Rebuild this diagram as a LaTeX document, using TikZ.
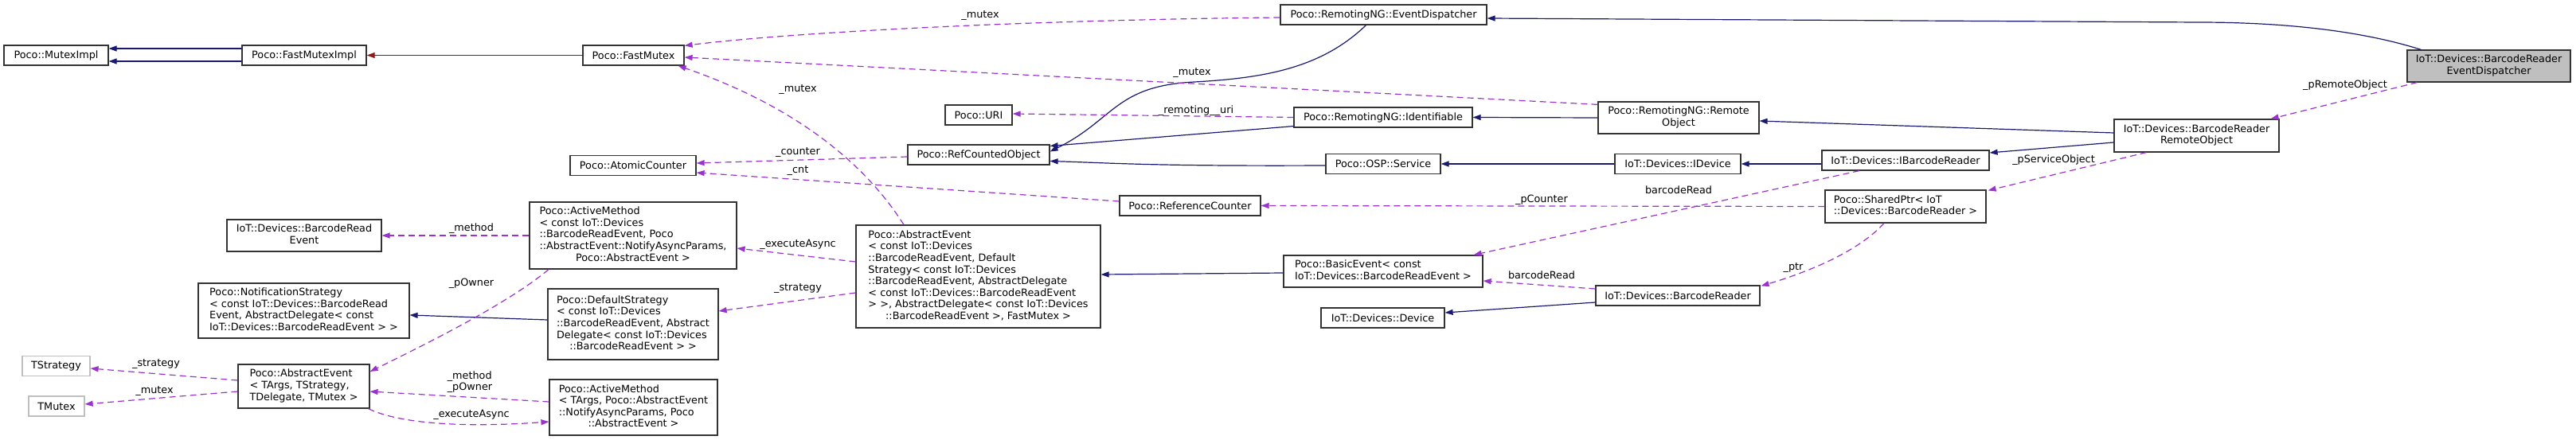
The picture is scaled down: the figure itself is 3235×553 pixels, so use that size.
\documentclass[tikz,border=0pt]{standalone}
\usepackage{fontspec}
\setmainfont{DejaVu Sans}
\usepackage{tikz}
\usetikzlibrary{arrows.meta,calc}
\definecolor{inhblue}{HTML}{191970}
\definecolor{usepurple}{HTML}{9A32CD}
\definecolor{protred}{HTML}{8B1A1A}
\definecolor{boxgray}{HTML}{BFBFBF}
\newcommand{\dfont}{\fontsize{12.8}{14.6}\selectfont}
% lines left, last line centred
\newcommand{\ml}[2]{\begin{tabular}{@{}l@{}}#1\\\multicolumn{1}{@{}c@{}}{#2}\end{tabular}}

\begin{document}
\begin{tikzpicture}[x=1pt,y=-1pt,
  cls/.style={draw=black!80,line width=1.2pt,fill=white,inner sep=0pt,font=\dfont},
  ext/.style={cls,draw=boxgray},
  focus/.style={cls,fill=boxgray},
  sz/.style 2 args={minimum width=#1pt,minimum height=#2pt},
  inh/.style={inhblue,line width=1.2pt,-{Triangle[length=10pt,width=7pt]}},
  prot/.style={inh,protred},
  use/.style={usepurple,line width=1.2pt,dash pattern=on 8pt off 5pt,-{Triangle[length=10pt,width=7pt]}},
  lbl/.style={font=\dfont,inner sep=0pt}]
  \useasboundingbox (0,0) rectangle (3235,553);

  % classes
  \node[cls,sz={131}{25}] (mutexImpl) at (70.5,69.5) {Poco::MutexImpl};
  \node[cls,sz={156}{25}] (fastMutexImpl) at (382,69.5) {Poco::FastMutexImpl};
  \node[cls,sz={127}{25}] (fastMutex) at (795.5,69.5) {Poco::FastMutex};
  \node[cls,sz={259}{25}] (eventDispatcher) at (1737.5,18.5) {Poco::RemotingNG::EventDispatcher};
  \node[focus,sz={205}{40}] (bred) at (3125.5,83) {\ml{IoT::Devices::BarcodeReader}{EventDispatcher}};
  \node[cls,sz={84}{25}] (uri) at (1229,144.5) {Poco::URI};
  \node[cls,sz={224}{25}] (identifiable) at (1737,147.5) {Poco::RemotingNG::Identifiable};
  \node[cls,sz={202}{40}] (remoteObject) at (2108,148) {\ml{Poco::RemotingNG::Remote}{Object}};
  \node[cls,sz={158}{25}] (atomicCounter) at (795,208) {Poco::AtomicCounter};
  \node[cls,sz={178}{25}] (refCounted) at (1229,194.5) {Poco::RefCountedObject};
  \node[cls,sz={144}{25}] (service) at (1737,206) {Poco::OSP::Service};
  \node[cls,sz={158}{25}] (iDevice) at (2107,206) {IoT::Devices::IDevice};
  \node[cls,sz={210}{25}] (iBarcodeReader) at (2393,201.5) {IoT::Devices::IBarcodeReader};
  \node[cls,sz={207}{41}] (brRemoteObject) at (2758.5,170.5) {\ml{IoT::Devices::BarcodeReader}{RemoteObject}};
  \node[cls,sz={177}{25}] (referenceCounter) at (1494.5,258.5) {Poco::ReferenceCounter};
  \node[cls,sz={202}{41}] (sharedPtr) at (2393,259.5) {\ml{Poco::SharedPtr< IoT}{::Devices::BarcodeReader >}};
  \node[cls,sz={194}{40}] (barcodeReadEvent) at (382,296) {\ml{IoT::Devices::BarcodeRead}{Event}};
  \node[cls,sz={260}{84}] (activeMethod) at (795,296)
    {\ml{Poco::ActiveMethod\\< const IoT::Devices\\::BarcodeReadEvent, Poco\\::AbstractEvent::NotifyAsyncParams,}{Poco::AbstractEvent >}};
  \node[cls,sz={307}{129}] (abstractEvent) at (1228.5,347.5)
    {\ml{Poco::AbstractEvent\\< const IoT::Devices\\::BarcodeReadEvent, Default\\Strategy< const IoT::Devices\\::BarcodeReadEvent, AbstractDelegate\\< const IoT::Devices::BarcodeReadEvent\\ > >, AbstractDelegate< const IoT::Devices}{::BarcodeReadEvent >, FastMutex >}};
  \node[cls,sz={250}{40}] (basicEvent) at (1737,341) {\ml{Poco::BasicEvent< const}{IoT::Devices::BarcodeReadEvent >}};
  \node[cls,sz={206}{25}] (barcodeReader) at (2107,371.5) {IoT::Devices::BarcodeReader};
  \node[cls,sz={155}{25}] (device) at (1736.5,399.5) {IoT::Devices::Device};
  \node[cls,sz={265}{69}] (notificationStrategy) at (381.5,390.5)
    {\ml{Poco::NotificationStrategy\\< const IoT::Devices::BarcodeRead\\Event, AbstractDelegate< const}{IoT::Devices::BarcodeReadEvent > >}};
  \node[cls,sz={214}{89}] (defaultStrategy) at (795,407.5)
    {\ml{Poco::DefaultStrategy\\< const IoT::Devices\\::BarcodeReadEvent, Abstract\\Delegate< const IoT::Devices}{::BarcodeReadEvent > >}};
  \node[ext,sz={85}{25}] (tStrategy) at (70.5,460) {TStrategy};
  \node[ext,sz={70}{25}] (tMutex) at (71,510.5) {TMutex};
  \node[cls,sz={165}{55}] (abstractEventT) at (381.5,485.5)
    {\ml{Poco::AbstractEvent\\< TArgs, TStrategy,}{TDelegate, TMutex >}};
  \node[cls,sz={211}{70}] (activeMethodT) at (795.5,512)
    {\ml{Poco::ActiveMethod\\< TArgs, Poco::AbstractEvent\\::NotifyAsyncParams, Poco}{::AbstractEvent >}};

  % edge labels
  \node[lbl] (lMutexA) at (1231,20) {\_mutex};
  \node[lbl] (lMutexB) at (1497,92) {\_mutex};
  \node[lbl] (lMutexC) at (1002,113) {\_mutex};
  \node[lbl] (lUri) at (1502,139) {\_remoting\_\_uri};
  \node[lbl] (lCounter) at (1002,192) {\_counter};
  \node[lbl] (lCnt) at (1002,215) {\_cnt};
  \node[lbl] (lPCounter) at (1936,251) {\_pCounter};
  \node[lbl] (lReadA) at (2108,239) {barcodeRead};
  \node[lbl] (lRemote) at (2945,107) {\_pRemoteObject};
  \node[lbl] (lService) at (2579,201) {\_pServiceObject};
  \node[lbl] (lPtr) at (2252,337) {\_ptr};
  \node[lbl] (lReadB) at (1936,346) {barcodeRead};
  \node[lbl] (lMethodA) at (592,287) {\_method};
  \node[lbl] (lAsyncA) at (1002,307) {\_executeAsync};
  \node[lbl] (lStrategyA) at (1002,363) {\_strategy};
  \node[lbl] (lOwner) at (592,356) {\_pOwner};
  \node[lbl] (lStrategyB) at (196,458) {\_strategy};
  \node[lbl] (lMutexD) at (194,492) {\_mutex};
  \node[lbl,align=left] (lMethodB) at (590,480) {\_method\\\_pOwner};
  \node[lbl] (lAsyncB) at (592,521) {\_executeAsync};

  % inheritance
  \draw[inh] ($(fastMutexImpl.west)+(0,-8.5)$) -- ($(mutexImpl.east)+(0,-8.5)$);
  \draw[inh] ($(fastMutexImpl.west)+(0,7.5)$) -- ($(mutexImpl.east)+(0,7.5)$);
  \draw[prot] (fastMutex.west) -- (fastMutexImpl.east);
  \draw[inh] ($(bred.north west)+(18,0)$) .. controls (2960,37) and (2860,28) .. (2760,28)
    -- ($(eventDispatcher.east)+(0,4.5)$);
  \draw[inh] ($(eventDispatcher.south)+(-22,0)$) .. controls (1660,85) and (1590,98) .. (1500,103)
    .. controls (1400,108) and (1400,150) .. ($(refCounted.east)+(0,-4)$);
  \draw[inh] ($(identifiable.south west)+(0,-2)$) -- ($(refCounted.east)+(0,-11)$);
  \draw[inh] ($(service.west)+(0,2)$) .. controls (1450,209) and (1400,205) .. ($(refCounted.east)+(0,8)$);
  \draw[inh] (remoteObject.west) -- (identifiable.east);
  \draw[inh] ($(brRemoteObject.west)+(0,-3.5)$) -- ($(remoteObject.east)+(0,4)$);
  \draw[inh] (iDevice.west) -- (service.east);
  \draw[inh] ($(iBarcodeReader.west)+(0,4.5)$) -- (iDevice.east);
  \draw[inh] ($(brRemoteObject.west)+(0,8.5)$) -- ($(iBarcodeReader.east)+(0,-9.5)$);
  \draw[inh] ($(basicEvent.west)+(0,2)$) -- ($(abstractEvent.east)+(0,-2.5)$);
  \draw[inh] ($(defaultStrategy.west)+(0,-5.5)$) -- ($(notificationStrategy.east)+(0,5.5)$);
  \draw[inh] ($(barcodeReader.west)+(0,8.5)$) -- ($(device.east)+(0,-6.5)$);

  % usage
  \draw[use] ($(eventDispatcher.west)+(0,3.5)$) .. controls (1300,25) and (1000,40) .. ($(fastMutex.north east)+(0,1)$);
  \draw[use] ($(remoteObject.north west)+(0,4)$) -- ($(fastMutex.east)+(0,2.5)$);
  \draw[use] ($(abstractEvent.north)+(-93.5,0)$) .. controls (1070,180) and (960,120) .. ($(fastMutex.south east)+(-8,0)$);
  \draw[use] (identifiable.west) -- ($(uri.east)+(0,-1.5)$);
  \draw[use] ($(refCounted.west)+(0,2.5)$) -- ($(atomicCounter.east)+(0,-3)$);
  \draw[use] ($(referenceCounter.west)+(0,-5.5)$) -- ($(atomicCounter.east)+(0,9)$);
  \draw[use] (sharedPtr.west) -- (referenceCounter.east);
  \draw[use] ($(iBarcodeReader.south)+(-58,0)$) -- ($(basicEvent.north east)+(-12,0)$);
  \draw[use] ($(bred.south west)+(13,0)$) -- ($(brRemoteObject.north east)+(-11,0)$);
  \draw[use] ($(brRemoteObject.south west)+(41,0)$) -- ($(sharedPtr.north east)+(2,1)$);
  \draw[use] ($(sharedPtr.south)+(-27,0)$) .. controls (2330,320) and (2260,345) .. ($(barcodeReader.north east)+(1,1)$);
  \draw[use] ($(barcodeReader.west)+(0,-8.5)$) -- ($(basicEvent.east)+(0,12)$);
  \draw[use] (activeMethod.west) -- (barcodeReadEvent.east);
  \draw[use] ($(abstractEvent.west)+(0,-18.5)$) -- ($(activeMethod.east)+(0,16)$);
  \draw[use] ($(abstractEvent.west)+(0,20.5)$) -- ($(defaultStrategy.east)+(0,-16.5)$);
  \draw[use] ($(activeMethod.south)+(-106,0)$) .. controls (640,380) and (540,430) .. ($(abstractEventT.east)+(0,-18.5)$);
  \draw[use] ($(abstractEventT.west)+(0,-7.5)$) -- ($(tStrategy.east)+(0,3)$);
  \draw[use] ($(abstractEventT.west)+(0,6.5)$) -- ($(tMutex.east)+(0,-2.5)$);
  \draw[use] ($(activeMethodT.west)+(0,-7)$) -- ($(abstractEventT.east)+(0,6.5)$);
  \draw[use] ($(abstractEventT.south east)+(-2,0)$) .. controls (500,532) and (580,538) .. ($(activeMethodT.west)+(0,18)$);
\end{tikzpicture}
\end{document}
